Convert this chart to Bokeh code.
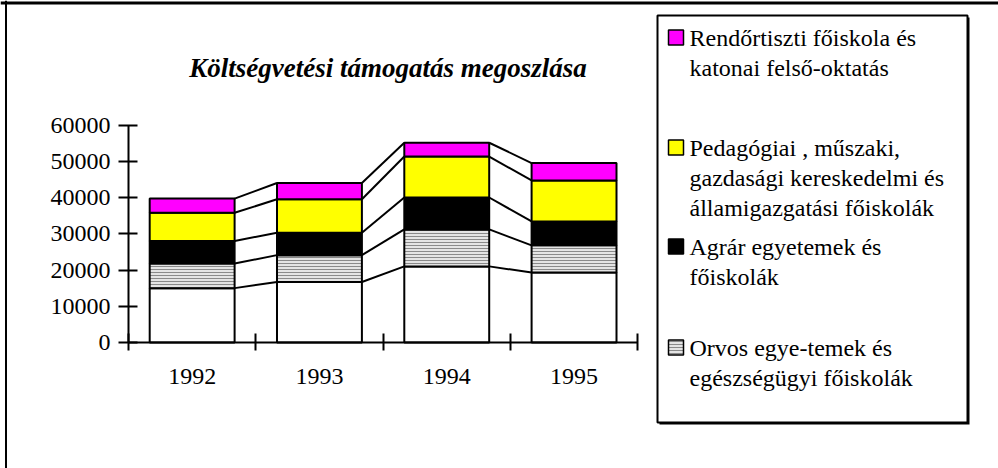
import numpy as np
from bokeh.plotting import figure
from bokeh.models import Range1d, LinearAxis, FixedTicker, Span, Label
from bokeh.embed import file_html
from bokeh.resources import INLINE

# ---------------- data ----------------
years = ["1992", "1993", "1994", "1995"]
base_white = [15000, 16700, 21000, 19300]          # bottom (white) segment
orvos = [6800, 7400, 10200, 7500]                  # grey striped
agrar = [6200, 6200, 8800, 6600]                   # black
pedagogiai = [7800, 9200, 11300, 11300]            # yellow
rendortiszti = [3900, 4500, 3800, 4800]            # magenta
y_ticks = [0, 10000, 20000, 30000, 40000, 50000, 60000]
title_text = "Költségvetési támogatás megoszlása"
legend_labels = [
    ["Rendőrtiszti főiskola és", "katonai felső-oktatás"],
    ["Pedagógiai , műszaki,", "gazdasági  kereskedelmi és", "államigazgatási főiskolák"],
    ["Agrár egyetemek és", "főiskolák"],
    ["Orvos egye-temek és", "egészségügyi főiskolák"],
]

# ---------------- layout (pixels) ----------------
W, H = 998, 468
X0, CAT = 128.0, 127.3      # left category boundary, px per category
Y0, YT = 342.0, 124.5       # pixel of 0 and of YMAX
YMAX = 60000
FONT_NAME = "Liberation Serif"
FS = "24px"


def dx(px):
    return (px - X0) / CAT - 0.5


def dy(py):
    return (Y0 - py) / (Y0 - YT) * YMAX


def wpx(n):
    return n / CAT


def hpx(n):
    return n / (Y0 - YT) * YMAX


p = figure(width=W, height=H, x_range=Range1d(dx(0), dx(W)), y_range=Range1d(dy(H), dy(0)),
           output_backend="svg", toolbar_location=None, min_border=0,
           x_axis_location=None, y_axis_location=None)
p.outline_line_color = None
p.background_fill_color = "white"
p.border_fill_color = "white"
for g in p.grid:
    g.visible = False

# outer frame
p.add_layout(Span(location=dx(5.5), dimension="height", line_color="black", line_width=2))
p.add_layout(Span(location=dy(2.5), dimension="width", line_color="black", line_width=3))

# ---------------- bars ----------------
stack = np.array([base_white, orvos, agrar, pedagogiai, rendortiszti], dtype=float)
fills = ["white", "#e4e4e4", "black", "#ffff00", "#ff00ff"]
tops = np.cumsum(stack, axis=0)
bottoms = tops - stack
xs = np.arange(len(years), dtype=float)
BW = 0.667

hatch_kw = dict(hatch_pattern="-", hatch_color="#8a8a8a", hatch_scale=3, hatch_weight=1)

for k in range(stack.shape[0]):
    kw = hatch_kw if k == 1 else {}
    p.vbar(x=xs, width=BW, bottom=bottoms[k], top=tops[k], fill_color=fills[k],
           line_color="black", line_width=2, **kw)

# series lines between bars
x0s, y0s, x1s, y1s = [], [], [], []
for k in range(stack.shape[0]):
    for i in range(len(years) - 1):
        x0s.append(xs[i] + BW / 2)
        y0s.append(tops[k][i])
        x1s.append(xs[i + 1] - BW / 2)
        y1s.append(tops[k][i + 1])
p.segment(x0=x0s, y0=y0s, x1=x1s, y1=y1s, line_color="black", line_width=2)

# ---------------- axes ----------------
yax = LinearAxis(fixed_location=-0.5, bounds=(0, YMAX),
                 ticker=FixedTicker(ticks=y_ticks, minor_ticks=[]),
                 axis_line_color="black", axis_line_width=2,
                 major_tick_line_color="black", major_tick_line_width=2,
                 major_tick_in=9, major_tick_out=10, minor_tick_line_color=None,
                 major_label_text_font=FONT_NAME, major_label_text_font_size=FS,
                 major_label_text_color="black", major_label_standoff=8)
p.add_layout(yax, "left")

bounds_x = [i - 0.5 for i in range(len(years) + 1)]
xax = LinearAxis(fixed_location=0, bounds=(bounds_x[0], bounds_x[-1]),
                 ticker=FixedTicker(ticks=bounds_x, minor_ticks=[]),
                 axis_line_color="black", axis_line_width=2,
                 major_tick_line_color="black", major_tick_line_width=2,
                 major_tick_in=9, major_tick_out=8, minor_tick_line_color=None,
                 major_label_text_color=None)
p.add_layout(xax, "below")

xlab = LinearAxis(fixed_location=0,
                  ticker=FixedTicker(ticks=list(range(len(years))), minor_ticks=[]),
                  major_label_overrides={i: y for i, y in enumerate(years)},
                  axis_line_color=None, major_tick_line_color=None, minor_tick_line_color=None,
                  major_tick_in=0, major_tick_out=0,
                  major_label_text_font=FONT_NAME, major_label_text_font_size=FS,
                  major_label_text_color="black", major_label_standoff=26)
p.add_layout(xlab, "below")

# ---------------- title ----------------
p.add_layout(Label(x=dx(387.5), y=dy(67), text=title_text, text_font=FONT_NAME,
                   text_font_style="bold italic", text_font_size="27px", text_color="black",
                   text_align="center", text_baseline="alphabetic"))

# ---------------- legend ----------------
LX0, LX1, LY0, LY1 = 657, 967, 15, 422
p.quad(left=dx(LX0 + 2), right=dx(LX1 + 2), top=dy(LY0 + 2), bottom=dy(LY1 + 2),
       fill_color="black", line_color=None)
p.quad(left=dx(LX0), right=dx(LX1), top=dy(LY0), bottom=dy(LY1),
       fill_color="white", line_color="black", line_width=2)

entry_y = [37, 147, 246, 347]
LINE = 30
legend_fills = [fills[4], fills[3], fills[2], fills[1]]
for j, (lines, cy) in enumerate(zip(legend_labels, entry_y)):
    kw = hatch_kw if j == 3 else {}
    p.rect(x=[dx(675.5)], y=[dy(cy)], width=wpx(15), height=hpx(15),
           fill_color=legend_fills[j], line_color="black", line_width=1.5, **kw)
    for n, line in enumerate(lines):
        p.add_layout(Label(x=dx(689), y=dy(cy + LINE * n), text=line, text_font=FONT_NAME,
                           text_font_size=FS, text_color="black",
                           text_align="left", text_baseline="middle"))

open("out.html", "w").write(file_html(p, INLINE))
